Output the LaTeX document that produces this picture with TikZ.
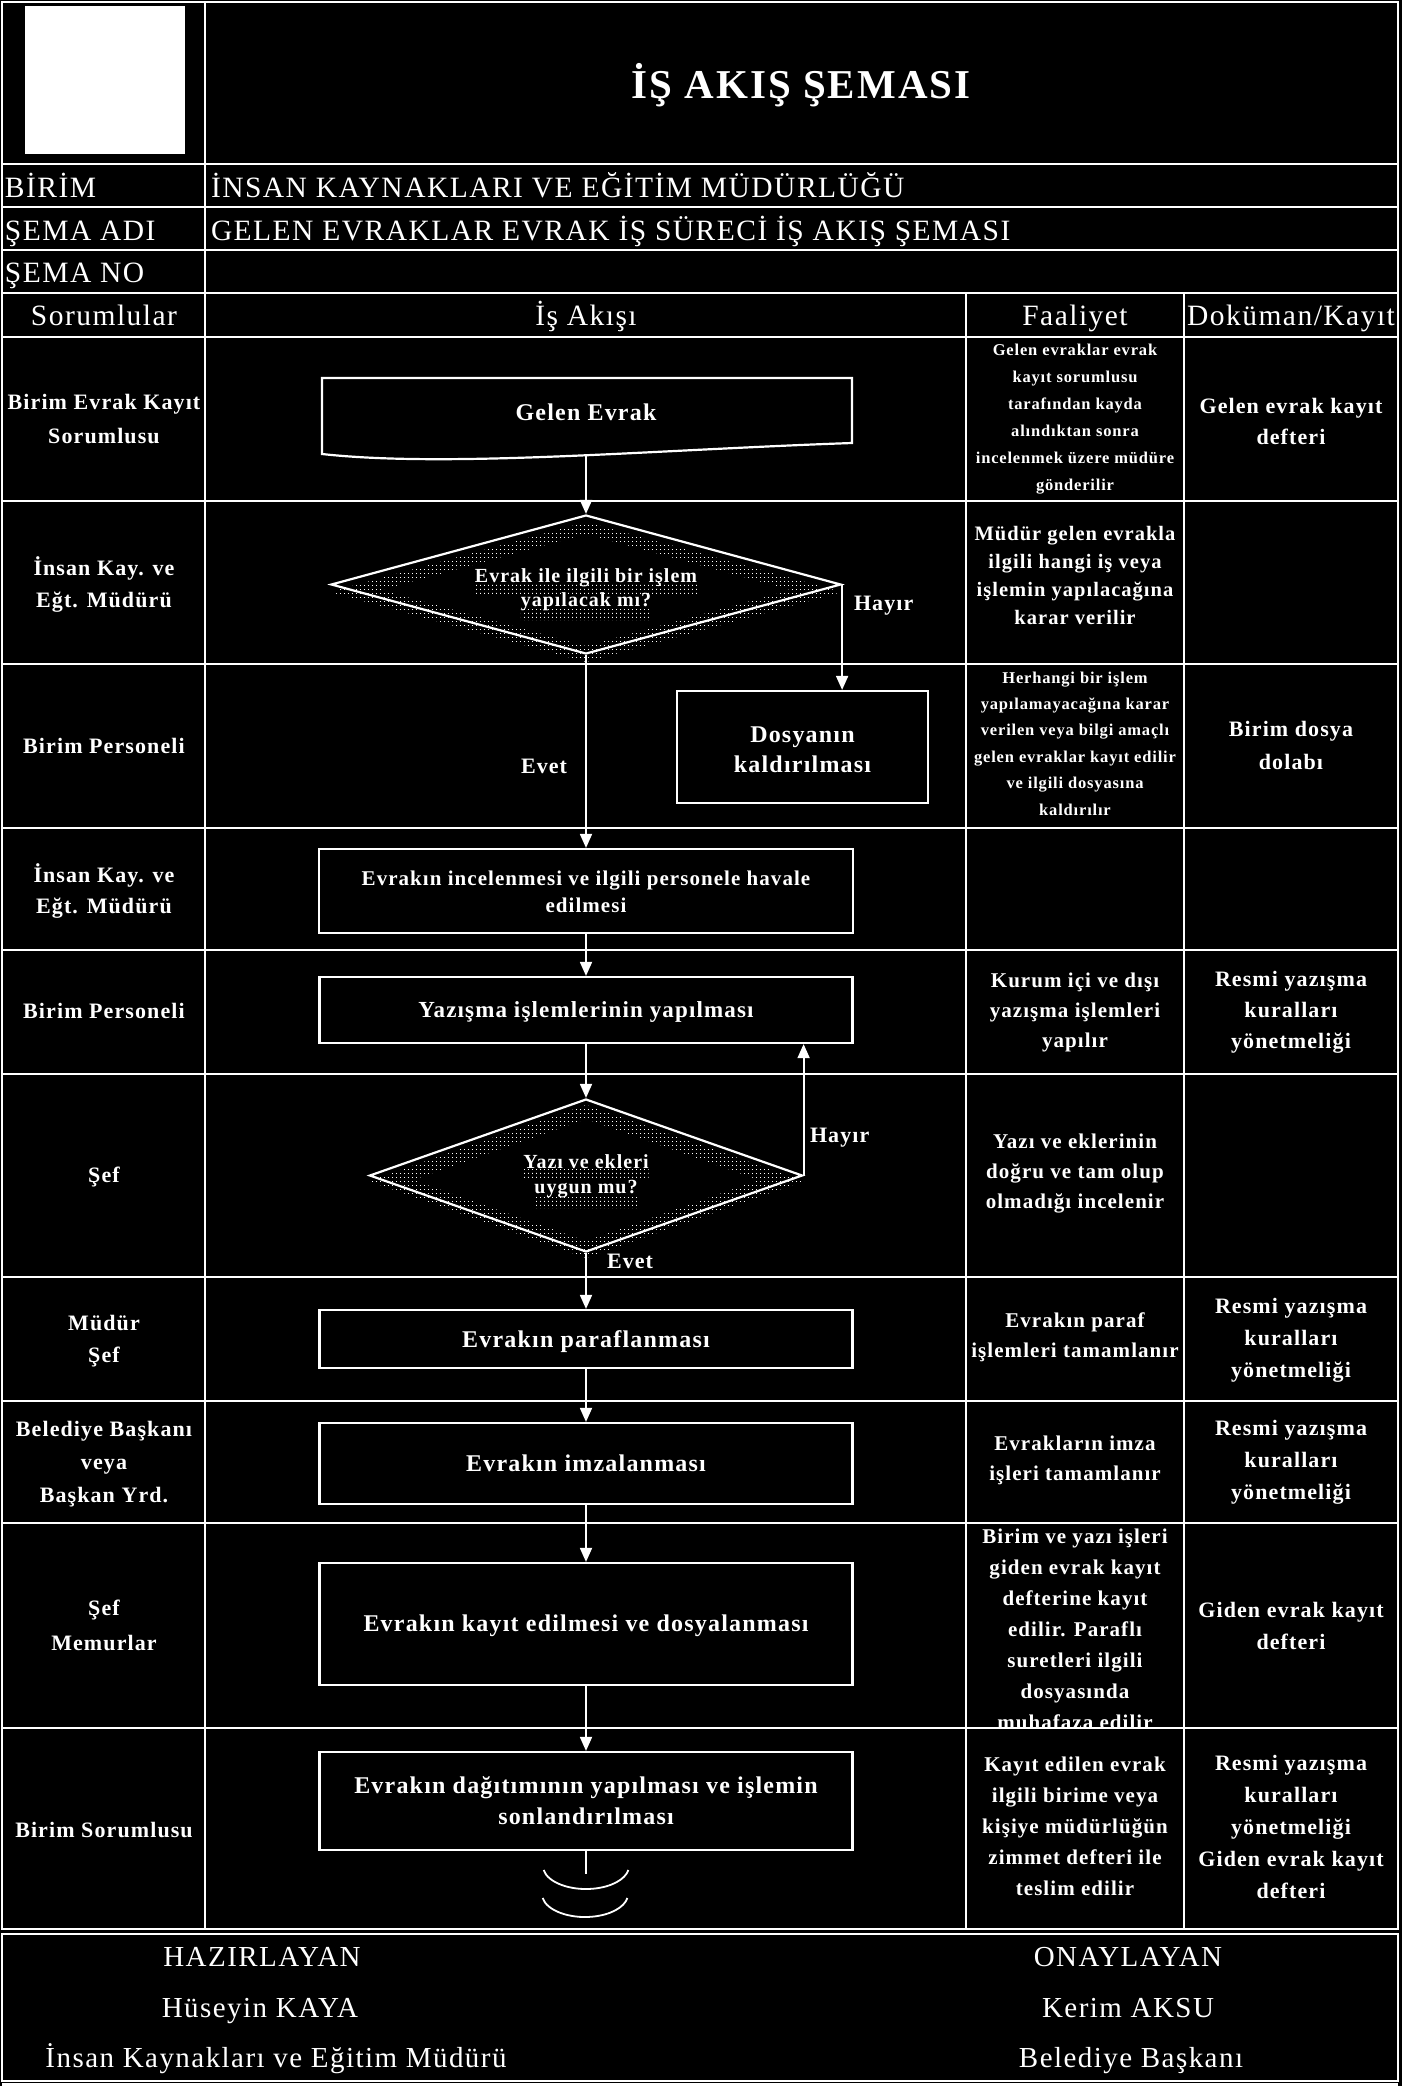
\documentclass[tikz,border=0pt]{standalone}
\usepackage{fontspec}
\setmainfont{Liberation Serif}[LetterSpace=5]
\usetikzlibrary{arrows.meta,shapes.geometric,patterns.meta,calc}
\tikzdeclarepattern{
  name=sparsedots,
  type=uncolored,
  bounding box={(0pt,0pt) and (4pt,4pt)},
  tile size={(4pt,4pt)},
  code={\pgfpathrectangle{\pgfpointorigin}{\pgfpoint{1.2pt}{1.2pt}}\pgfusepath{fill}}
}
\newcommand\fsz[1]{\fontsize{#1}{#1}\selectfont}
\newcommand\mlines[6]{\foreach \mlt [count=\mli] in {#6}{\node[txt,font=#5,anchor=base] (#1\mli) at (#2,{#3+(\mli-1)*#4}) {\mlt};}}
\begin{document}
\begin{tikzpicture}[x=1pt,y=-1pt,
  txt/.style={text=white,inner sep=0pt,outer sep=0pt},
  tbl/.style={draw=white,line width=2.4pt},
  ln/.style={draw=white,line width=2.2pt},
  box/.style={ln,rectangle,inner sep=0pt},
  arr/.style={draw=white,line width=1.8pt,-{Triangle[length=14pt,width=12pt]}},
  con/.style={draw=white,line width=1.8pt},
  shade/.style={pattern=sparsedots,pattern color=white},
  hf/.style={txt,font=\fsz{29.5}},
  ff/.style={txt,font=\fsz{29},anchor=base},
  lab/.style={txt,font=\fsz{22}\bfseries,anchor=base west}]
\fill[black] (0,0) rectangle (1402,2086);
\useasboundingbox (0,0) rectangle (1402,2086);

% ---------- table ----------
\draw[tbl] (2,2) rectangle (1398,1929);
\foreach \yy in {164,207,250,293,337,501,664,828,950,1074,1277,1401,1523,1728}
  \draw[tbl] (2,\yy) -- (1398,\yy);
\draw[tbl] (205,2) -- (205,1929);
\draw[tbl] (966,293) -- (966,1929);
\draw[tbl] (1184,293) -- (1184,1929);
\draw[tbl] (2,1934) rectangle (1398,2081);
\draw[tbl] (2,2084.5) -- (1398,2084.5);

% ---------- header ----------
\node[fill=white,inner sep=0pt,minimum width=160pt,minimum height=148pt] (logo) at (105,80) {};
\node[txt,font=\fsz{41}\bfseries,anchor=base] (title) at (801,98) {İŞ AKIŞ ŞEMASI};
\node[hf,anchor=base west] (birimL) at (5,197) {BİRİM};
\node[hf,anchor=base west] (birimV) at (211,197) {İNSAN KAYNAKLARI VE EĞİTİM MÜDÜRLÜĞÜ};
\node[hf,anchor=base west] (semaL) at (5,240) {ŞEMA ADI};
\node[hf,anchor=base west] (semaV) at (211,240) {GELEN EVRAKLAR EVRAK İŞ SÜRECİ İŞ AKIŞ ŞEMASI};
\node[hf,anchor=base west] (noL) at (5,282) {ŞEMA NO};
\node[hf,anchor=base] (h1) at (104,325) {Sorumlular};
\node[hf,anchor=base] (h2) at (586,325) {İş Akışı};
\node[hf,anchor=base] (h3) at (1075,325) {Faaliyet};
\node[hf,anchor=base] (h4) at (1291,325) {Doküman/Kayıt};

% ---------- Sorumlular ----------
\mlines{s1-}{104}{409}{34}{\fsz{22}\bfseries}{Birim Evrak Kayıt,Sorumlusu}
\mlines{s2-}{104}{575}{32}{\fsz{22}\bfseries}{İnsan Kay. ve,Eğt. Müdürü}
\mlines{s3-}{104}{753}{0}{\fsz{22}\bfseries}{Birim Personeli}
\mlines{s4-}{104}{882}{31}{\fsz{22}\bfseries}{İnsan Kay. ve,Eğt. Müdürü}
\mlines{s5-}{104}{1018}{0}{\fsz{22}\bfseries}{Birim Personeli}
\mlines{s6-}{104}{1182}{0}{\fsz{22}\bfseries}{Şef}
\mlines{s7-}{104}{1330}{32}{\fsz{22}\bfseries}{Müdür,Şef}
\mlines{s8-}{104}{1436}{33}{\fsz{22}\bfseries}{Belediye Başkanı,veya,Başkan Yrd.}
\mlines{s9-}{104}{1615}{35}{\fsz{22}\bfseries}{Şef,Memurlar}
\mlines{s10-}{104}{1837}{0}{\fsz{22}\bfseries}{Birim Sorumlusu}

% ---------- Faaliyet ----------
\mlines{f1-}{1075}{355}{27}{\fsz{16.5}\bfseries}{Gelen evraklar evrak,kayıt sorumlusu,tarafından kayda,alındıktan sonra,incelenmek üzere müdüre,gönderilir}
\mlines{f2-}{1075}{540}{28}{\fsz{20.5}\bfseries}{Müdür gelen evrakla,ilgili hangi iş veya,işlemin yapılacağına,karar verilir}
\mlines{f3-}{1075}{683}{26.4}{\fsz{16.5}\bfseries}{Herhangi bir işlem,yapılamayacağına karar,verilen veya bilgi amaçlı,gelen evraklar kayıt edilir,ve ilgili dosyasına,kaldırılır}
\mlines{f5-}{1075}{987}{30}{\fsz{21}\bfseries}{Kurum içi ve dışı,yazışma işlemleri,yapılır}
\mlines{f6-}{1075}{1148}{30}{\fsz{21}\bfseries}{Yazı ve eklerinin,doğru ve tam olup,olmadığı incelenir}
\mlines{f7-}{1075}{1327}{30}{\fsz{21}\bfseries}{Evrakın paraf,işlemleri tamamlanır}
\mlines{f8-}{1075}{1450}{30}{\fsz{21}\bfseries}{Evrakların imza,işleri tamamlanır}
\begin{scope}
\clip (967,1524) rectangle (1183,1727);
\mlines{f9-}{1075}{1543}{31}{\fsz{21}\bfseries}{Birim ve yazı işleri,giden evrak kayıt,defterine kayıt,edilir. Paraflı,suretleri ilgili,dosyasında,muhafaza edilir}
\end{scope}
\mlines{f10-}{1075}{1771}{31}{\fsz{21}\bfseries}{Kayıt edilen evrak,ilgili birime veya,kişiye müdürlüğün,zimmet defteri ile,teslim edilir}

% ---------- Doküman ----------
\mlines{k1-}{1291}{413}{31}{\fsz{22}\bfseries}{Gelen evrak kayıt,defteri}
\mlines{k3-}{1291}{736}{33}{\fsz{22}\bfseries}{Birim dosya,dolabı}
\mlines{k5-}{1291}{986}{31}{\fsz{22}\bfseries}{Resmi yazışma,kuralları,yönetmeliği}
\mlines{k7-}{1291}{1313}{32}{\fsz{22}\bfseries}{Resmi yazışma,kuralları,yönetmeliği}
\mlines{k8-}{1291}{1435}{32}{\fsz{22}\bfseries}{Resmi yazışma,kuralları,yönetmeliği}
\mlines{k9-}{1291}{1617}{32}{\fsz{22}\bfseries}{Giden evrak kayıt,defteri}
\mlines{k10-}{1291}{1770}{32}{\fsz{22}\bfseries}{Resmi yazışma,kuralları,yönetmeliği,Giden evrak kayıt,defteri}

% ---------- flow shapes ----------
\draw[ln] (322,378) -- (852,378) -- (852,443) .. controls (650,450) and (450,468) .. (322,454) -- cycle;
\coordinate (gelenb) at (586,456);
\mlines{gel-}{586}{420}{0}{\fsz{24}\bfseries}{Gelen Evrak}

% decision 1 with dotted shadow
\fill[shade,even odd rule] (330,592) -- (586,522) -- (842,592) -- (586,662) -- cycle
  (381,590) -- (586,534) -- (791,590) -- (586,646) -- cycle;
\node[ln,diamond,inner sep=0pt,minimum width=510pt,minimum height=139pt] (d1) at (586,584.5) {};
\mlines{d1t-}{586}{582}{24}{\fsz{20}\bfseries}{Evrak ile ilgili bir işlem,yapılacak mı?}
\fill[shade] ([yshift=-1pt]d1t-1.base west) rectangle ([yshift=-11pt]d1t-1.base east);
\fill[shade] ([yshift=-3pt]d1t-2.base west) rectangle ([yshift=-14pt]d1t-2.base east);

\node[box,minimum width=251pt,minimum height=112pt] (dos) at (802.5,747) {};
\mlines{dos-}{802.5}{742}{30}{\fsz{24}\bfseries}{Dosyanın,kaldırılması}

\node[box,minimum width=534pt,minimum height=84pt] (inc) at (586,891) {};
\mlines{inc-}{586}{885}{27}{\fsz{21}\bfseries}{Evrakın incelenmesi ve ilgili personele havale,edilmesi}

\node[box,minimum width=533pt,minimum height=66pt] (yaz) at (586,1010) {};
\mlines{yaz-}{586}{1017}{0}{\fsz{23}\bfseries}{Yazışma işlemlerinin yapılması}

% decision 2 with dotted shadow
\fill[shade,even odd rule] (369,1181) -- (586,1105) -- (804,1181) -- (586,1258) -- cycle
  (413,1180) -- (586,1119) -- (759,1180) -- (586,1241) -- cycle;
\node[ln,diamond,inner sep=0pt,minimum width=433pt,minimum height=153pt] (d2) at (586,1175.5) {};
\mlines{d2t-}{586}{1168}{25}{\fsz{20}\bfseries}{Yazı ve ekleri,uygun mu?}
\fill[shade] ([yshift=-1pt]d2t-1.base west) rectangle ([yshift=-11pt]d2t-1.base east);
\fill[shade] ([yshift=-4pt]d2t-2.base west) rectangle ([yshift=-15pt]d2t-2.base east);

\node[box,minimum width=533pt,minimum height=58pt] (par) at (586,1339) {};
\mlines{par-}{586}{1347}{0}{\fsz{24}\bfseries}{Evrakın paraflanması}
\node[box,minimum width=533pt,minimum height=81pt] (imz) at (586,1463.5) {};
\mlines{imz-}{586}{1471}{0}{\fsz{24}\bfseries}{Evrakın imzalanması}
\node[box,minimum width=533pt,minimum height=122pt] (kay) at (586,1624) {};
\mlines{kay-}{586}{1631}{0}{\fsz{24}\bfseries}{Evrakın kayıt edilmesi ve dosyalanması}
\node[box,minimum width=533pt,minimum height=98pt] (dag) at (586,1801) {};
\mlines{dag-}{586}{1793}{31}{\fsz{24}\bfseries}{Evrakın dağıtımının yapılması ve işlemin,sonlandırılması}

% ---------- connectors ----------
\draw[arr] (gelenb) -- (d1.north);
\draw[arr] (d1.east) -- (d1.east |- dos.north);
\draw[arr] (d1.south) -- (inc.north);
\draw[arr] (inc.south) -- (yaz.north);
\draw[arr] (yaz.south) -- (d2.north);
\draw[arr] (d2.east) -- (d2.east |- yaz.south);
\draw[arr] (d2.south) -- (par.north);
\draw[arr] (par.south) -- (imz.north);
\draw[arr] (imz.south) -- (kay.north);
\draw[arr] (kay.south) -- (dag.north);
\coordinate (term) at (586,1874);
\draw[con] (dag.south) -- (term);
\draw[con] (543.65,1870) arc[start angle=190,end angle=350,x radius=43pt,y radius=23pt];
\draw[con] (542.65,1898) arc[start angle=190,end angle=350,x radius=43pt,y radius=23pt];

\node[lab] (hay1) at (854,610) {Hayır};
\node[lab] (evet1) at (521,773) {Evet};
\node[lab] (hay2) at (810,1142) {Hayır};
\node[lab] (evet2) at (607,1268) {Evet};

% ---------- footer ----------
\node[ff] (prep1) at (262,1966) {HAZIRLAYAN};
\node[ff] (prep2) at (260,2017) {Hüseyin KAYA};
\node[ff] (prep3) at (276,2067) {İnsan Kaynakları ve Eğitim Müdürü};
\node[ff] (appr1) at (1128,1966) {ONAYLAYAN};
\node[ff] (appr2) at (1128,2017) {Kerim AKSU};
\node[ff] (appr3) at (1131,2067) {Belediye Başkanı};
\end{tikzpicture}
\end{document}
